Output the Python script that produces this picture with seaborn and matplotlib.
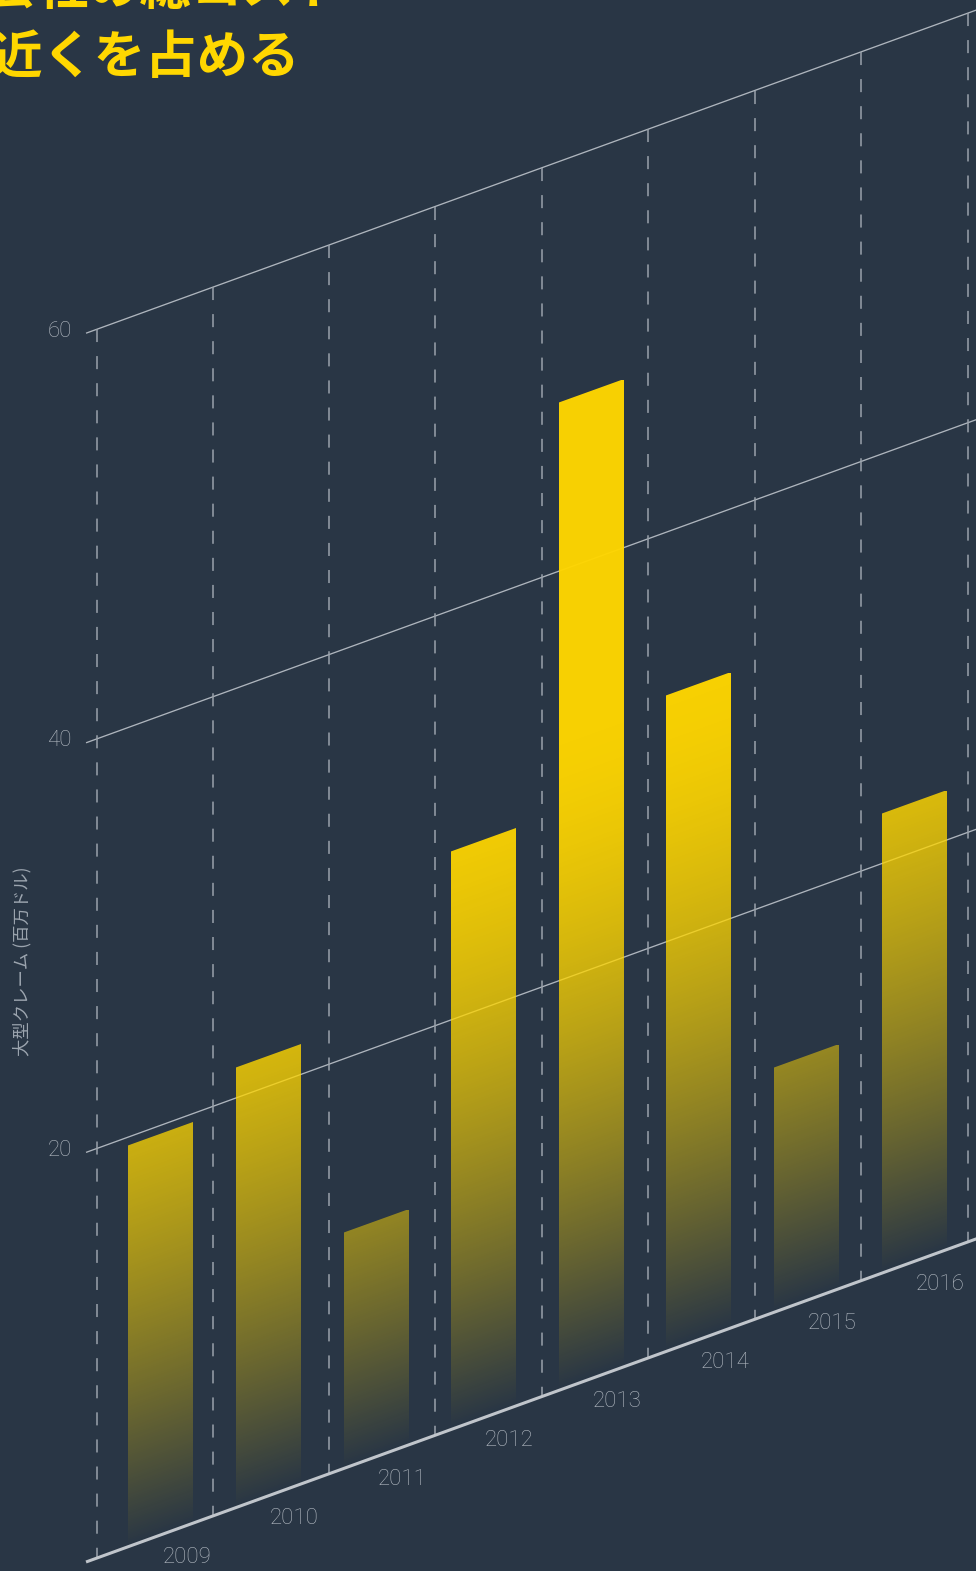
import numpy as np
import pandas as pd
import matplotlib
matplotlib.use("Agg")
import matplotlib.pyplot as plt
import matplotlib.transforms as mtransforms
import seaborn as sns

# ---- data -------------------------------------------------------------
years = ["2009", "2010", "2011", "2012", "2013", "2014", "2015", "2016"]
claims = [19.6, 21.5, 11.5, 28.2, 48.2, 32.0, 11.9, 22.4]   # large claims, USD million
y_ticks = [20, 40, 60]
dividers = [-0.59, 0.49, 1.56, 2.55, 3.54, 4.53, 5.52, 6.51, 7.50]

title_lines = ["大型クレームは保険会社の総コスト", "の半分近くを占める"]
y_label = "大型クレーム (百万ドル)"

# ---- style ------------------------------------------------------------
BG = "#293645"
YELLOW = (1.0, 0.843, 0.0)
GRID = "#aeb5bd"
DASH = "#9aa2ab"
TEXT = "#b3bac2"

sns.set_style("dark", {"axes.facecolor": BG, "figure.facecolor": BG})
plt.rcParams["font.family"] = ["Roboto", "Noto Sans CJK JP", "DejaVu Sans"]
plt.rcParams["lines.scale_dashes"] = False

W, H, DPI = 976, 1571, 100
fig = plt.figure(figsize=(W / DPI, H / DPI), dpi=DPI, facecolor=BG)
ax = fig.add_axes([0, 0, 1, 1])
ax.set_facecolor(BG)

df = pd.DataFrame({"year": years, "claims": claims})
sns.barplot(data=df, x="year", y="claims", width=0.6, color=YELLOW, ax=ax, zorder=3)

# oblique projection: every category step lifts the baseline
SHEAR = 1.907
shear = mtransforms.Affine2D(np.array([[1.0, 0.0, 0.0], [SHEAR, 1.0, 0.0], [0.0, 0.0, 1.0]]))
tr = shear + ax.transData

X_START = -0.694
X_END = 9.0

# horizontal value grid
for t in y_ticks:
    ax.plot([X_START, X_END], [t, t], transform=tr, color=GRID, lw=0.95, zorder=1,
            solid_capstyle="butt")
# baseline
ax.plot([X_START, X_END], [0, 0], transform=tr, color="#c0c5cb", lw=2.2, zorder=4,
        solid_capstyle="butt")
# dashed category dividers
for d in dividers:
    ax.plot([d, d], [y_ticks[-1], 0], transform=tr, color=DASH, lw=1.1,
            ls=(0, (9.4, 10.1)), zorder=1)


def fade(v):
    f = np.clip(v / 32.0, 0, 1)
    return 0.97 * (1 - (1 - f) ** 1.6)


# gradient fill for each bar, following the sheared geometry
for patch in list(ax.patches):
    x0, w, h = patch.get_x(), patch.get_width(), patch.get_height()
    patch.set_transform(tr)
    patch.set_facecolor("none")
    patch.set_edgecolor("none")
    v = np.linspace(0, h, 400)
    img = np.zeros((len(v), 2, 4))
    img[..., 0], img[..., 1], img[..., 2] = YELLOW
    img[..., 3] = fade(v)[:, None]
    im = ax.imshow(img, extent=[x0, x0 + w, 0, h], origin="lower", aspect="auto",
                   interpolation="bilinear", zorder=3)
    im.set_transform(tr)
    im.set_clip_path(patch)

# value tick labels
tick_tr = mtransforms.offset_copy(tr, fig=fig, x=-14, y=2, units="dots")
for t in y_ticks:
    ax.text(X_START, t, str(t), transform=tick_tr, ha="right", va="center",
            fontsize=16, color=TEXT, fontweight="light")

# year labels
year_tr = mtransforms.offset_copy(tr, fig=fig, x=26, y=-23, units="dots")
for i, yr in enumerate(years):
    ax.text(i, 0, yr, transform=year_tr, ha="center", va="center",
            fontsize=16, color=TEXT, fontweight="light")

ax.set_xlim(-1.4935, 7.577)
ax.set_ylim(-1.763, 74.946)
ax.axis("off")

fig.text(22 / W, 1 - 961 / H, y_label, rotation=90, ha="center", va="center",
         fontsize=12.5, color="#9ca5af", family=["Noto Sans CJK JP", "DejaVu Sans"])

fig.text(345 / W, 1 + 11 / H, title_lines[0], ha="right", va="center",
         fontsize=37, fontweight="bold", color="#FFD700",
         family=["Noto Sans CJK JP", "DejaVu Sans"])
fig.text(300 / W, 1 - 57 / H, title_lines[1], ha="right", va="center",
         fontsize=37, fontweight="bold", color="#FFD700",
         family=["Noto Sans CJK JP", "DejaVu Sans"])

fig.savefig("out.png", dpi=DPI, facecolor=BG)
